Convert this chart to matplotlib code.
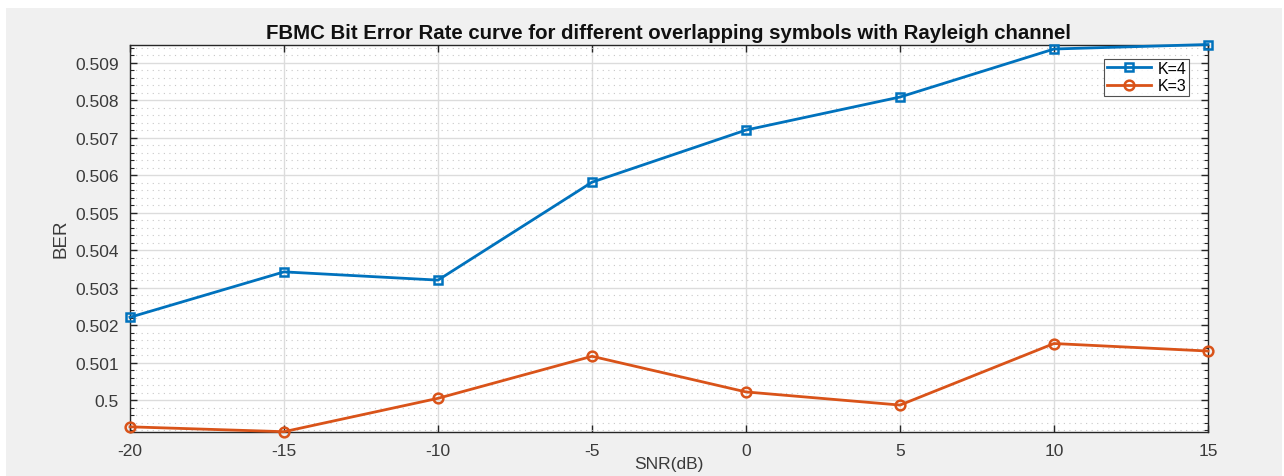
import matplotlib
matplotlib.use("Agg")
import matplotlib.pyplot as plt
from matplotlib.patches import Rectangle
from matplotlib.ticker import MultipleLocator

snr = [-20, -15, -10, -5, 0, 5, 10, 15]
ber_k4 = [0.50221, 0.50342, 0.50320, 0.50581, 0.50720, 0.50808, 0.50936, 0.50948]
ber_k3 = [0.49929, 0.49916, 0.50005, 0.50117, 0.50022, 0.49987, 0.50151, 0.50131]
yticks = [0.5, 0.501, 0.502, 0.503, 0.504, 0.505, 0.506, 0.507, 0.508, 0.509]
ytick_labels = ["0.5", "0.501", "0.502", "0.503", "0.504", "0.505", "0.506", "0.507", "0.508", "0.509"]

plt.rcParams['font.family'] = ['Liberation Sans', 'DejaVu Sans']

W, H = 1284, 477
fig = plt.figure(figsize=(W / 100, H / 100), dpi=100)
fig.patch.set_facecolor('white')
fig.patches.append(Rectangle((6 / W, 0), (1282 - 6) / W, (H - 9) / H,
                             transform=fig.transFigure, facecolor='#f0f0f0',
                             edgecolor='none', zorder=-10))

left, right, top, bottom = 130, 1208, 45.5, 432.7
ax = fig.add_axes([left / W, 1 - bottom / H, (right - left) / W, (bottom - top) / H])
ax.set_facecolor('white')

blue = '#0072BD'
orange = '#D95319'
ax.plot(snr, ber_k4, color=blue, lw=2.0, marker='s', ms=6, mfc='none', mew=1.8, label='K=4',
        clip_on=False, zorder=5)
ax.plot(snr, ber_k3, color=orange, lw=2.0, marker='o', ms=7, mfc='none', mew=1.8, label='K=3',
        clip_on=False, zorder=5)

ax.set_xlim(-20, 15)
ax.set_ylim(min(ber_k3), max(ber_k4))
ax.set_xticks(snr)
ax.set_xticklabels([str(v) for v in snr])
ax.set_yticks(yticks)
ax.set_yticklabels(ytick_labels)
ax.yaxis.set_minor_locator(MultipleLocator(0.0002))

ax.grid(True, which='major', color='#dcdcdc', lw=1.0)
ax.grid(True, which='minor', axis='y', color='#c8c8c8', lw=0.8, ls=(0, (1, 4)))
ax.set_axisbelow(True)

ax.tick_params(axis='both', which='both', direction='in', top=True, right=True,
               colors='#262626', labelsize=12.5, labelcolor='#3a3a3a')
ax.tick_params(which='major', length=5, width=1)
ax.tick_params(which='minor', length=3, width=0.8)
ax.tick_params(axis='x', pad=8)
ax.tick_params(axis='y', pad=8)
for s in ax.spines.values():
    s.set_color('#262626')
    s.set_linewidth(1.0)

ax.set_title('FBMC Bit Error Rate curve for different overlapping symbols with Rayleigh channel',
             fontsize=14.7, fontweight='bold', color='#111111', pad=5)
ax.set_xlabel('SNR(dB)', fontsize=12.5, color='#3a3a3a', labelpad=-1)
ax.set_ylabel('BER', fontsize=13.5, color='#3a3a3a', labelpad=4)

leg = ax.legend(loc='upper right', bbox_to_anchor=(1 - 19 / (right - left), 1 - 14 / (bottom - top)),
                fontsize=11.5, frameon=True, fancybox=False, edgecolor='#262626',
                handlelength=2.8, borderpad=0.15, labelspacing=0.15, handletextpad=0.4,
                borderaxespad=0)
leg.get_frame().set_linewidth(0.8)

fig.savefig('out.png', dpi=100, facecolor=fig.get_facecolor())
